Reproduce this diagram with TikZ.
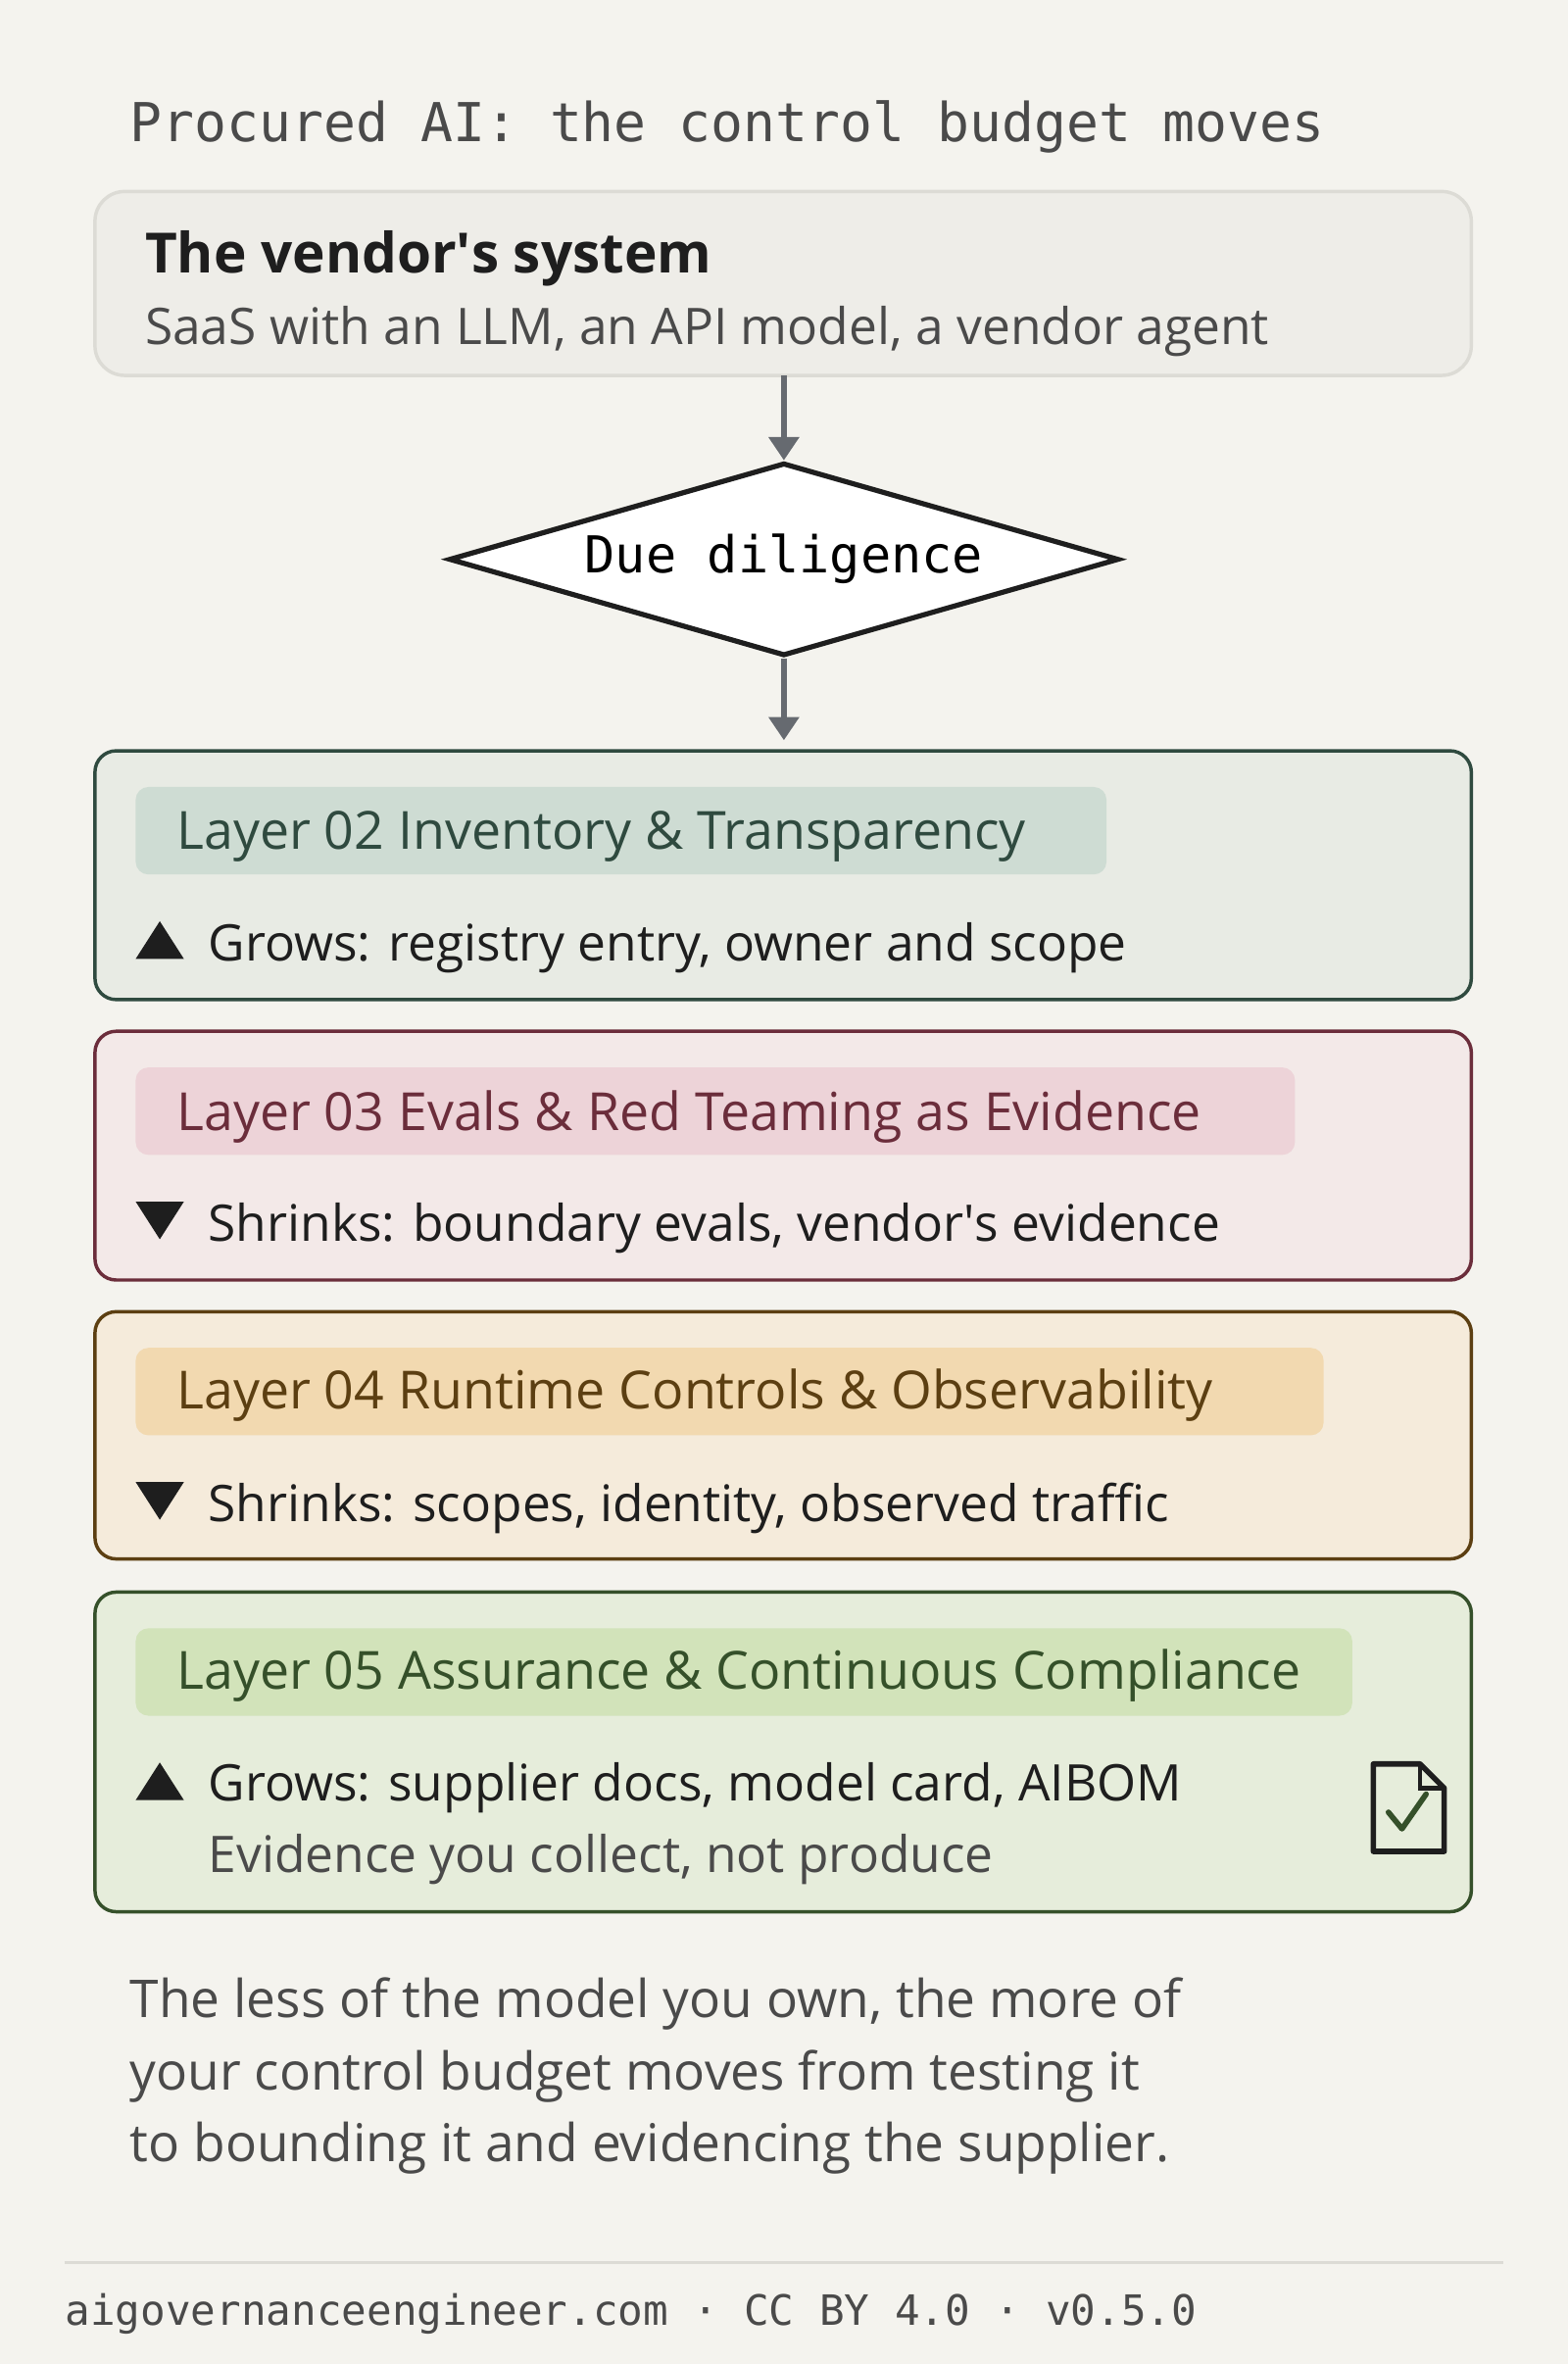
\documentclass[tikz,border=0pt]{standalone}
\usepackage{fontspec}
\setmainfont{Open Sans}
\setmonofont{DejaVu Sans Mono}
\usetikzlibrary{arrows.meta,shapes.geometric,positioning}
\definecolor{bg}{HTML}{F4F3EE}
\definecolor{ink}{HTML}{1E1E1E}
\definecolor{soft}{HTML}{4A4A4A}
\definecolor{arr}{HTML}{666A70}
\definecolor{vendf}{HTML}{EEEDE8}\definecolor{vendd}{HTML}{DCDBD5}
\definecolor{grnA}{HTML}{2F4A3F}\definecolor{grnAf}{HTML}{E8EBE4}\definecolor{grnAt}{HTML}{CEDCD3}
\definecolor{redA}{HTML}{6B2D3B}\definecolor{redAf}{HTML}{F3E9E8}\definecolor{redAt}{HTML}{EDD3D8}
\definecolor{ambA}{HTML}{5C3F12}\definecolor{ambAf}{HTML}{F5EBDB}\definecolor{ambAt}{HTML}{F2D9B0}
\definecolor{limA}{HTML}{35502A}\definecolor{limAf}{HTML}{E6EDDB}\definecolor{limAt}{HTML}{D2E3BA}
\newcommand{\apos}{\textquotesingle}
\tikzset{
  layer/.style={draw=#1, line width=1.6pt, rounded corners=10pt},
  tag/.style={rounded corners=6pt, inner sep=0pt},
  body/.style={anchor=west, inner sep=0pt, yshift=-2.5pt, font=\fontsize{23.8}{28}\selectfont, text=ink},
  tagtext/.style={body, font=\fontsize{24.8}{28}\selectfont, text=#1},
  flow/.style={-{Triangle[length=11pt,width=14pt]}, draw=arr, line width=2.6pt},
}
\begin{document}
\begin{tikzpicture}[x=0.025cm, y=-0.025cm]
    \useasboundingbox[fill=bg] (0,0) rectangle (1040,1568);
    % heading
    \node[anchor=west, inner sep=0pt, text=soft, font=\ttfamily\fontsize{25.3}{30}\selectfont] (head) at (86,84) {Procured AI: the control budget moves};

    % vendor box
    \draw[draw=vendd, fill=vendf, line width=1.6pt, rounded corners=14pt] (63,127) rectangle (976,249);
    \coordinate (vtop) at (520,249);
    \node[body, font=\bfseries\fontsize{26.2}{30}\selectfont] (vname) at (96,168) {The vendor\apos s system};
    \node[body, text=soft] (vsub) at (96,216) {SaaS with an LLM, an API model, a vendor agent};

    % decision
    \node[diamond, draw=ink, line width=2.4pt, fill=white, aspect=3.48, minimum width=316pt, minimum height=91pt, inner sep=0pt,
          font=\ttfamily\fontsize{24}{26}\selectfont] (dd) at (520,371) {Due diligence};
    \draw[flow] (vtop) -- (dd.north);
    \coordinate (ltop) at (520,491);
    \draw[flow] (dd.south) -- (ltop);

    % layer 02
    \draw[layer=grnA, fill=grnAf] (63,498) rectangle (976,663);
    \fill[grnAt, tag] (90,522) rectangle (734,580);
    \node[tagtext=grnA] (l2) at (117,551) {Layer 02 Inventory \& Transparency};
    \fill[ink] (90,636) -- (122,636) -- (106,611) -- cycle;
    \node[body] (l2t) at (138,625) {Grows: registry entry, owner and scope};

    % layer 03
    \draw[layer=redA, fill=redAf] (63,684) rectangle (976,849);
    \fill[redAt, tag] (90,708) rectangle (859,766);
    \node[tagtext=redA] (l3) at (117,737) {Layer 03 Evals \& Red Teaming as Evidence};
    \fill[ink] (90,797) -- (122,797) -- (106,822) -- cycle;
    \node[body] (l3t) at (138,811) {Shrinks: boundary evals, vendor\apos s evidence};

    % layer 04
    \draw[layer=ambA, fill=ambAf] (63,870) rectangle (976,1034);
    \fill[ambAt, tag] (90,894) rectangle (878,952);
    \node[tagtext=ambA] (l4) at (117,922) {Layer 04 Runtime Controls \& Observability};
    \fill[ink] (90,983) -- (122,983) -- (106,1008) -- cycle;
    \node[body] (l4t) at (138,997) {Shrinks: scopes, identity, observed traffic};

    % layer 05
    \draw[layer=limA, fill=limAf] (63,1056) rectangle (976,1268);
    \fill[limAt, tag] (90,1080) rectangle (897,1138);
    \node[tagtext=limA] (l5) at (117,1108) {Layer 05 Assurance \& Continuous Compliance};
    \fill[ink] (90,1194) -- (122,1194) -- (106,1169) -- cycle;
    \node[body] (l5t) at (138,1182) {Grows: supplier docs, model card, AIBOM};
    \node[body, text=soft] (l5s) at (138,1230) {Evidence you collect, not produce};
    \draw[ink, line width=2.6pt, line join=round] (911,1170) -- (942,1170) -- (958,1186) -- (958,1228) -- (911,1228) -- cycle;
    \draw[ink, line width=2.2pt] (942,1170) -- (942,1186) -- (958,1186);
    \draw[limA, line width=2.6pt, line cap=round, line join=round] (921,1202) -- (930,1213) -- (946,1190);

    % closing note
    \node[body, text=soft, font=\fontsize{24.6}{34}\selectfont, align=left, anchor=north west] (note) at (86,1308)
      {The less of the model you own, the more of\\your control budget moves from testing it\\to bounding it and evidencing the supplier.};

    % footer
    \draw[vendd, line width=1.4pt] (43,1501) -- (997,1501);
    \node[anchor=west, inner sep=0pt, text=soft, font=\ttfamily\fontsize{19.7}{22}\selectfont] (foot) at (43,1535)
      {aigovernanceengineer.com · CC BY 4.0 · v0.5.0};
\end{tikzpicture}
\end{document}
